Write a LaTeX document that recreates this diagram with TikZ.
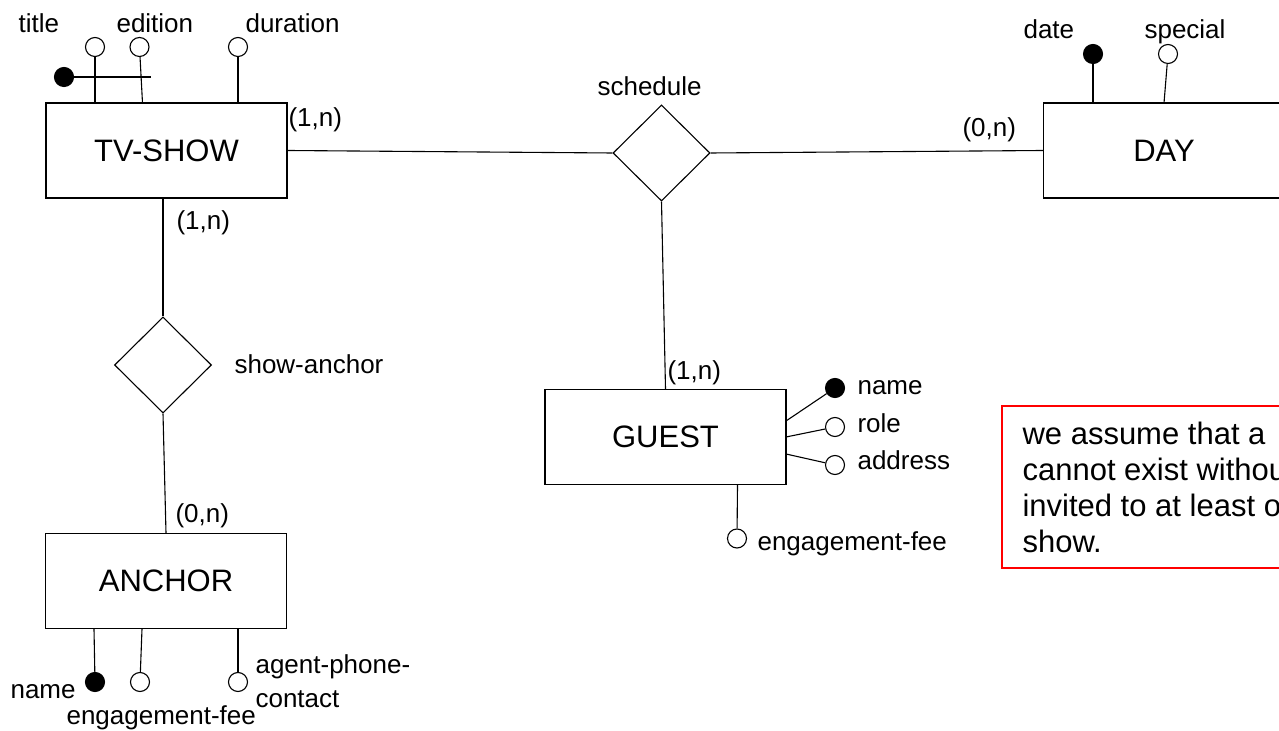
\documentclass[tikz,border=0pt]{standalone}
\usepackage{fontspec}
\setmainfont{Liberation Sans}
\usetikzlibrary{shapes.geometric}
\begin{document}
\begin{tikzpicture}[x=0.5pt,y=-0.5pt,line width=0.55pt,
  entity/.style={draw, rectangle, minimum width=120.5pt, minimum height=47.5pt, inner sep=0pt, font=\fontsize{15.5}{18}\selectfont},
  rel/.style={draw, diamond, minimum width=48.5pt, minimum height=48pt, inner sep=0pt},
  lbl/.style={anchor=base west, inner sep=0pt, font=\fontsize{13}{15.6}\selectfont},
  attr/.style={draw, circle, minimum size=9.5pt, inner sep=0pt, fill=white},
  keyattr/.style={draw, circle, minimum size=9.5pt, inner sep=0pt, fill=black},
  notebox/.style={draw=red, line width=0.6pt},
  notetext/.style={anchor=north west, inner sep=0pt, align=left, font=\fontsize{15.5}{18}\selectfont}
]
\useasboundingbox (0,0) rectangle (1279,731);
\clip (0,0) rectangle (1279,731);

% entities
\node[entity] (tv) at (166.5,150.5) {TV-SHOW};
\node[entity] (day) at (1164,150.5) {DAY};
\node[entity] (guest) at (665.5,437) {GUEST};
\node[entity] (anchor) at (166,581) {ANCHOR};

% relationships
\node[rel] (sch) at (661.5,153) {};
\node[rel] (sa) at (163,365) {};

% relationship connectors
\draw (tv.east) -- (sch.west);
\draw (sch.east) -- (day.west);
\draw (sch.south) -- (guest.north);
\draw (sa.north |- tv.south) -- (sa.north);
\draw (sa.south) -- (anchor.north);

% relationship labels and cardinalities
\node[lbl] (schlbl) at (597,96) {schedule};
\node[lbl] (salbl) at (234,374) {show-anchor};
\node[lbl] (c1) at (288,127) {(1,n)};
\node[lbl] (c2) at (962,137) {(0,n)};
\node[lbl] (c3) at (176,230) {(1,n)};
\node[lbl] (c4) at (175,523) {(0,n)};
\node[lbl] (c5) at (667,380) {(1,n)};

% TV-SHOW attributes
\node[attr] (tvtitle) at (95,47) {};
\node[attr] (tvedition) at (139.5,47) {};
\node[attr] (tvduration) at (238,47) {};
\coordinate (tvtitleA) at (95,103);
\coordinate (tveditionA) at (142.5,103);
\coordinate (tvdurationA) at (238,103);
\draw (tvtitle) -- (tvtitleA);
\draw (tvedition) -- (tveditionA);
\draw (tvduration) -- (tvdurationA);
\node[keyattr] (tvkey) at (64,77) {};
\coordinate (tvkeyend) at (151,77);
\draw (tvkey) -- (tvkeyend);
\node[lbl] (ltitle) at (18,33) {title};
\node[lbl] (ledition) at (116,33) {edition};
\node[lbl] (lduration) at (245,33) {duration};

% DAY attributes
\node[keyattr] (daydate) at (1093,54) {};
\node[attr] (dayspecial) at (1168,54) {};
\coordinate (daydateA) at (1093,103);
\coordinate (dayspecialA) at (1164,103);
\draw (daydate) -- (daydateA);
\draw (dayspecial) -- (dayspecialA);
\node[lbl] (ldate) at (1023,39) {date};
\node[lbl] (lspecial) at (1144,39) {special};

% GUEST attributes
\node[keyattr] (gname) at (835,388) {};
\node[attr] (grole) at (835,427) {};
\node[attr] (gaddress) at (835,465) {};
\node[attr] (gfee) at (737,538.5) {};
\coordinate (gnameA) at (786,421);
\coordinate (groleA) at (786,437);
\coordinate (gaddressA) at (786,454);
\coordinate (gfeeA) at (737.5,485);
\draw (gname) -- (gnameA);
\draw (grole) -- (groleA);
\draw (gaddress) -- (gaddressA);
\draw (gfee) -- (gfeeA);
\node[lbl] (lgname) at (857,395) {name};
\node[lbl] (lgrole) at (857,433) {role};
\node[lbl] (lgaddress) at (857,470) {address};
\node[lbl] (lgfee) at (757,551) {engagement-fee};

% ANCHOR attributes
\node[keyattr] (aname) at (95,682) {};
\node[attr] (afee) at (140,682) {};
\node[attr] (aphone) at (238,682) {};
\coordinate (anameA) at (94,629);
\coordinate (afeeA) at (142,629);
\coordinate (aphoneA) at (238,629);
\draw (aname) -- (anameA);
\draw (afee) -- (afeeA);
\draw (aphone) -- (aphoneA);
\node[lbl] (laname) at (10,698) {name};
\node[lbl] (lafee) at (66,724) {engagement-fee};
\node[lbl] (laphone1) at (255,673) {agent-phone-};
\node[lbl] (laphone2) at (255,707) {contact};

% note
\draw[notebox] (1002,406) rectangle (1300,568);
\node[notetext] (note) at (1022,421) {we assume that a\\cannot exist withou\\invited to at least o\\show.};
\end{tikzpicture}
\end{document}
